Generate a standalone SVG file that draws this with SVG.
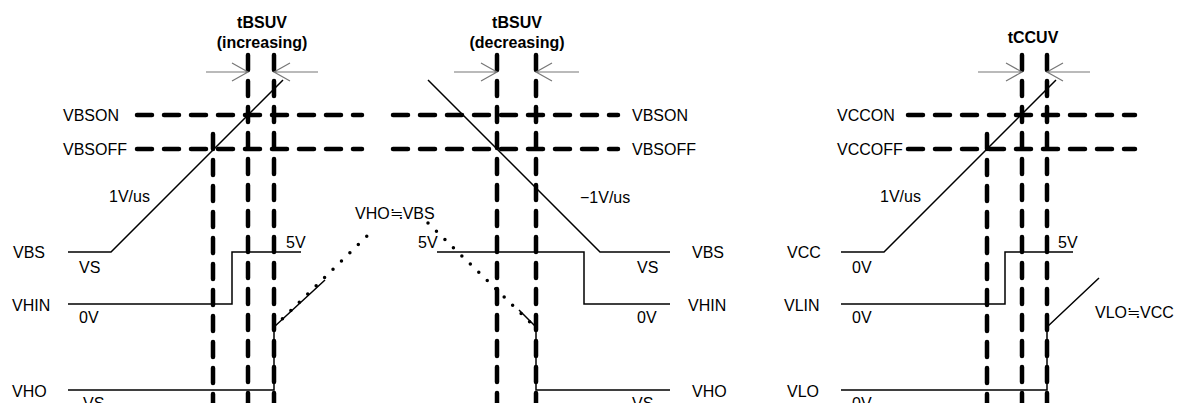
<svg xmlns="http://www.w3.org/2000/svg" width="1182" height="403" viewBox="0 0 1182 403">
<defs>
<style>
text{font-family:"Liberation Sans","Noto Sans CJK JP",sans-serif;font-size:16px;fill:#000}
.t{font-weight:bold;text-anchor:middle}
.sig{fill:none;stroke:#000;stroke-width:1.5}
.dh{fill:none;stroke:#000;stroke-width:4.5;stroke-dasharray:15 12;stroke-linecap:round}
.dv{fill:none;stroke:#000;stroke-width:4.5;stroke-dasharray:15 11;stroke-linecap:round}
.arr{fill:none;stroke:#777;stroke-width:1.2}
.dot{fill:none;stroke:#000;stroke-width:3.5;stroke-dasharray:0 11.8;stroke-linecap:round}
</style>
</defs>
<rect width="1182" height="403" fill="#fff"/>

<g id="panel-increasing">
  <text class="t" x="262" y="28">tBSUV</text>
  <text class="t" x="262" y="48">(increasing)</text>
  <text x="63" y="121">VBSON</text>
  <text x="63" y="155">VBSOFF</text>
  <text x="13" y="258">VBS</text>
  <text x="79" y="273">VS</text>
  <text x="12" y="311">VHIN</text>
  <text x="79" y="323">0V</text>
  <text x="12" y="397">VHO</text>
  <text x="83" y="409">VS</text>
  <text x="286" y="248">5V</text>
  <text x="109" y="202">1V/us</text>
  <text x="355" y="219">VHO≒VBS</text>
  <line class="dh" x1="137" y1="115" x2="362" y2="115"/>
  <line class="dh" x1="137" y1="149" x2="362" y2="149"/>
  <line class="dv" x1="213" y1="134" x2="213" y2="403"/>
  <line class="dv" x1="248" y1="55" x2="248" y2="403"/>
  <line class="dv" x1="274" y1="55" x2="274" y2="403"/>
  <path class="arr" d="M206 72H248M232 63L248 72L232 81M318 72H274M290 63L274 72L290 81"/>
  <path class="sig" d="M68 252H111L283 80"/>
  <path class="sig" d="M68 304H232V252H301"/>
  <path class="sig" d="M68 390H274V327L325 280"/>
  <line class="dot" x1="274" y1="327" x2="370" y2="233"/>
</g>

<g id="panel-decreasing">
  <text class="t" x="517" y="28">tBSUV</text>
  <text class="t" x="517" y="48">(decreasing)</text>
  <text x="632" y="121">VBSON</text>
  <text x="632" y="155">VBSOFF</text>
  <text x="692" y="258">VBS</text>
  <text x="637" y="273">VS</text>
  <text x="688" y="311">VHIN</text>
  <text x="637" y="323">0V</text>
  <text x="692" y="397">VHO</text>
  <text x="632" y="409">VS</text>
  <text x="418" y="248">5V</text>
  <text x="580" y="203">−1V/us</text>
  <line class="dh" x1="393" y1="115" x2="618" y2="115"/>
  <line class="dh" x1="393" y1="149" x2="618" y2="149"/>
  <line class="dv" x1="497" y1="55" x2="497" y2="403"/>
  <line class="dv" x1="536" y1="55" x2="536" y2="403"/>
  <path class="arr" d="M454 72H497M481 63L497 72L481 81M579 72H536M552 63L536 72L552 81"/>
  <path class="sig" d="M428 80L600 252H670"/>
  <path class="sig" d="M437 252H584V304H670"/>
  <path class="sig" d="M519 310L536 327V390H670"/>
  <line class="dot" x1="428" y1="223" x2="533" y2="325"/>
</g>

<g id="panel-vcc">
  <text class="t" x="1033" y="43">tCCUV</text>
  <text x="837" y="121">VCCON</text>
  <text x="837" y="155">VCCOFF</text>
  <text x="787" y="258">VCC</text>
  <text x="852" y="273">0V</text>
  <text x="784" y="311">VLIN</text>
  <text x="852" y="323">0V</text>
  <text x="787" y="397">VLO</text>
  <text x="852" y="409">0V</text>
  <text x="1058" y="248">5V</text>
  <text x="880" y="202">1V/us</text>
  <text x="1095" y="318">VLO≒VCC</text>
  <line class="dh" x1="908" y1="115" x2="1135" y2="115"/>
  <line class="dh" x1="908" y1="149" x2="1135" y2="149"/>
  <line class="dv" x1="987" y1="134" x2="987" y2="403"/>
  <line class="dv" x1="1022" y1="55" x2="1022" y2="403"/>
  <line class="dv" x1="1047" y1="55" x2="1047" y2="403"/>
  <path class="arr" d="M978 72H1022M1006 63L1022 72L1006 81M1090 72H1047M1063 63L1047 72L1063 81"/>
  <path class="sig" d="M841 252H884L1056 80"/>
  <path class="sig" d="M841 304H1005V252H1073"/>
  <path class="sig" d="M841 390H1047V327L1099 278"/>
</g>
</svg>
